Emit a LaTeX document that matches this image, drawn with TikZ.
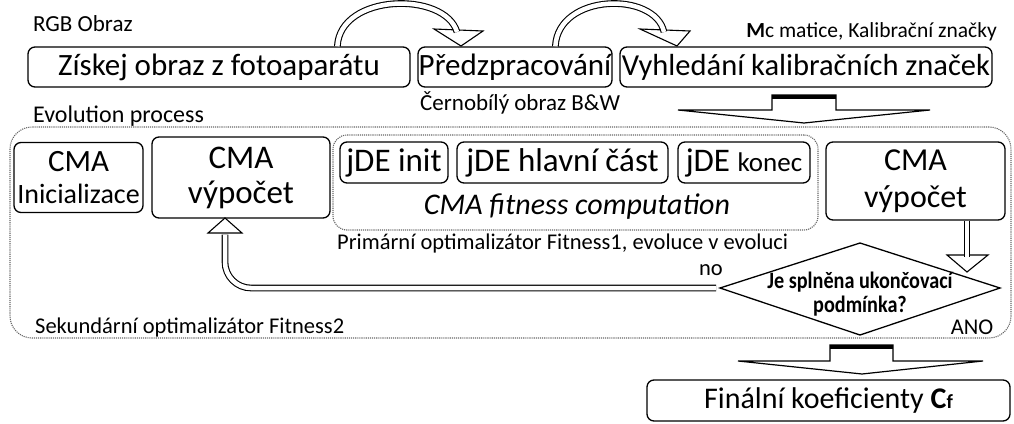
\documentclass[tikz,border=0pt]{standalone}
\usepackage{fontspec}
\setmainfont{Carlito}
\newfontfamily\condfont{Carlito}[FakeStretch=0.86]
\usetikzlibrary{calc}
\newcommand{\fsz}[1]{\fontsize{#1}{#1}\selectfont}
\begin{document}
\begin{tikzpicture}[x=1pt,y=-1pt,
  box/.style={draw, line width=1.3pt, rounded corners=7pt, inner sep=0pt, align=center},
  dotbox/.style={draw=black!60, densely dotted, line width=1.1pt, inner sep=0pt},
  lbl/.style={inner sep=0pt},
  dbl/.style={double, double distance=4.5pt, line width=1.1pt},
  head/.style={draw, fill=white, line width=1.1pt, line join=miter},
  blk/.style={draw, fill=white, line width=1.2pt, line join=miter}]
\useasboundingbox (0,0) rectangle (1014,423);

% top row
\node[box, minimum width=382pt, minimum height=40pt, font=\fsz{31}] (b1) at (219,67) {Získej obraz z fotoaparátu};
\node[box, minimum width=194pt, minimum height=40pt, font=\fsz{31}] (b2) at (515,67) {Předzpracování};
\node[box, minimum width=372pt, minimum height=40pt, font=\fsz{30.5}] (b3) at (806,67) {Vyhledání kalibračních značek};

\node[lbl, anchor=base west, font=\fsz{23}] (rgb) at (33,31) {RGB Obraz};
\node[lbl, anchor=base east, font=\fsz{21.5}] (mc) at (997,37) {\textbf{M}c matice, Kalibrační značky};
\node[lbl, anchor=base west, font=\fsz{23}] (bw) at (420,110) {Černobílý obraz B\&W};
\node[lbl, anchor=base west, font=\fsz{24}] (evl) at (33,122) {Evolution process};

% containers
\node[dotbox, rounded corners=22pt, minimum width=1001pt, minimum height=211pt] (evo) at (510.5,232.5) {};
\node[dotbox, rounded corners=14pt, minimum width=485pt, minimum height=95pt] (fit) at (575.5,182.5) {};

% inner boxes
\node[box, minimum width=129pt, minimum height=70pt, font=\fontsize{28}{32}\selectfont] (cma1) at (78.5,177.5) {{\fsz{31}CMA}\\Inicializace};
\node[box, minimum width=178pt, minimum height=81pt, font=\fontsize{33}{35}\selectfont] (cma2) at (241,177.5) {CMA\\výpočet};
\node[box, minimum width=108pt, minimum height=41pt, font=\fsz{33}] (jde1) at (394,162.5) {jDE init};
\node[box, minimum width=211pt, minimum height=41pt, font=\fsz{33}] (jde2) at (562.5,162.5) {jDE hlavní část};
\node[box, minimum width=132pt, minimum height=41pt, font=\fsz{33}] (jde3) at (744,162.5) {jDE {\fsz{27}konec}};
\node[box, minimum width=179pt, minimum height=78pt, font=\fontsize{32}{37}\selectfont] (cma3) at (915.5,181) {CMA\\výpočet};

\node[lbl, anchor=base, font=\fsz{30}\itshape] (fitl) at (577,214) {CMA fitness computation};
\node[lbl, anchor=base west, font=\fsz{22.5}] (prim) at (337,249) {Primární optimalizátor Fitness1, evoluce v evoluci};
\node[lbl, anchor=base, font=\fsz{22.5}] (no) at (711,275) {no};
\node[lbl, anchor=base west, font=\fsz{22.5}] (sek) at (35,333) {Sekundární optimalizátor Fitness2};
\node[lbl, anchor=base, font=\fsz{22.5}] (ano) at (972,334) {ANO};

% decision
\coordinate (dT) at (860,243);
\coordinate (dR) at (1000,288);
\coordinate (dB) at (860,335);
\coordinate (dL) at (720,288);
\draw[line width=1.3pt, line join=miter] (dT) -- (dR) -- (dB) -- (dL) -- cycle;
\node[lbl, align=center, font=\condfont\bfseries\fontsize{23.5}{24}\selectfont] (dq) at (860,294) {Je splněna ukončovací\\podmínka?};

% final box
\node[box, minimum width=363pt, minimum height=41pt, font=\fsz{30}] (fin) at (828.5,400.5) {Finální koeficienty \textbf{C}{\bfseries\fsz{20}f}};

% curved arrows
\coordinate (c1s) at ($(b1.north west)+(310,0)$);
\coordinate (c1e) at (457,32);
\draw[head] (434,29) -- (483,31) -- (461,46) -- cycle;
\draw[dbl] (c1s) .. controls (340,-7) and (445,-9) .. (c1e);
\coordinate (c2s) at ($(b2.north west)+(138,0)$);
\coordinate (c2e) at (664,32);
\draw[head] (640,29) -- (690,31) -- (677,46) -- cycle;
\draw[dbl] (c2s) .. controls (558,-7) and (655,-9) .. (c2e);

% block arrow b3 -> evo
\draw[blk] (772,110) -- (772,95) -- (836,95) -- (836,110) -- (930,110) -- (804,123) -- (678,110) -- cycle;
\draw[line width=4pt] (772,96.5) -- (836,96.5);

% block arrow evo -> fin
\draw[blk] (830,361) -- (830,345) -- (893,345) -- (893,361) -- (983,361) -- (862,374) -- (738,361) -- cycle;
\draw[line width=4pt] (830,346.5) -- (893,346.5);

% cma3 -> decision
\draw[head] (947,255) -- (988,255) -- (967,272) -- cycle;
\draw[dbl] ($(cma3.south)+(51.5,0)$) -- (967,256.5);

% decision -> cma2 (no)
\draw[head] (208,233) -- (242,233) -- (225,218) -- cycle;
\draw[dbl, rounded corners=26pt] ($(dL)+(-4,0)$) -- (225,288) -- (225,234.5);
\end{tikzpicture}
\end{document}
